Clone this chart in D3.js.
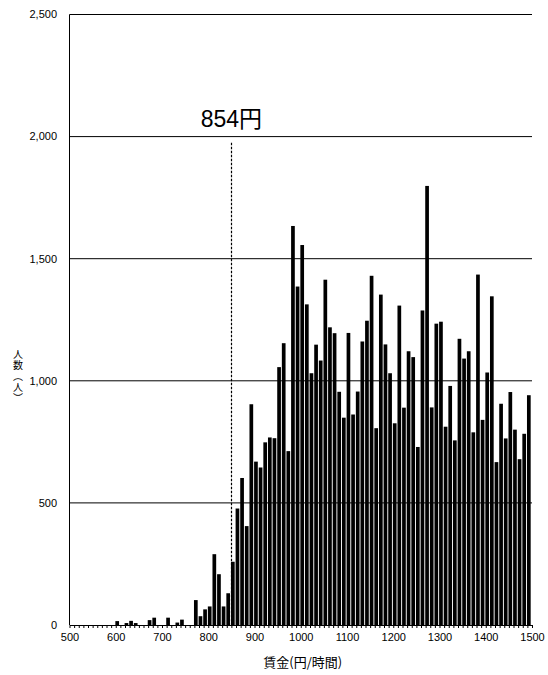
<!DOCTYPE html>
<html>
<head>
<meta charset="utf-8">
<script src="https://cdn.jsdelivr.net/npm/d3@7"></script>
<style>
  html, body { margin: 0; padding: 0; background: #fff; }
  svg { display: block; }
</style>
</head>
<body>
<svg id="chart" width="548" height="675"></svg>
<script>
// ---- data ----
const wages = [
  500,510,520,530,540,550,560,570,580,590,
  600,610,620,630,640,650,660,670,680,690,
  700,710,720,730,740,750,760,770,780,790,
  800,810,820,830,840,850,860,870,880,890,
  900,910,920,930,940,950,960,970,980,990,
  1000,1010,1020,1030,1040,1050,1060,1070,1080,1090,
  1100,1110,1120,1130,1140,1150,1160,1170,1180,1190,
  1200,1210,1220,1230,1240,1250,1260,1270,1280,1290,
  1300,1310,1320,1330,1340,1350,1360,1370,1380,1390,
  1400,1410,1420,1430,1440,1450,1460,1470,1480,1490
];
const counts = [
  0,0,0,0,0,0,0,0,0,0,
  16,0,8,17,8,0,0,20,30,0,
  0,30,0,10,22,0,0,102,36,64,
  76,290,208,76,130,259,477,602,405,904,
  669,645,748,768,765,1056,1154,712,1634,1386,
  1556,1313,1031,1148,1083,1414,1219,1195,955,849,
  1196,862,956,1161,1246,1430,806,1353,1149,1031,
  826,1308,890,1121,1097,729,1288,1798,891,1234,
  1242,812,979,756,1172,1091,1121,789,1435,840,
  1034,1346,667,906,764,954,800,679,783,941
];
const binWidth = 10;
const xTickLabels = [500,600,700,800,900,1000,1100,1200,1300,1400,1500];
const yTickValues = [0,500,1000,1500,2000,2500];
const minWage = 854;
const minWageLabel = "854円";
const xTitle = "賃金(円/時間)";
const yTitle = "人数（人）";

// ---- layout ----
const svg = d3.select("#chart");
const x = d3.scaleLinear().domain([500, 1500]).range([69.5, 532]);
const y = d3.scaleLinear().domain([0, 2500]).range([625, 14.5]);
const latin = "'Liberation Sans', Arial, 'Noto Sans CJK JP', sans-serif";
const cjk = "'Noto Sans CJK JP', 'Liberation Sans', sans-serif";

// gridlines
svg.append("g")
  .selectAll("line")
  .data(yTickValues.filter(v => v > 0))
  .join("line")
  .attr("x1", x(500)).attr("x2", x(1500))
  .attr("y1", d => y(d)).attr("y2", d => y(d))
  .attr("stroke", "#000").attr("stroke-width", 1);

// y labels
svg.append("g")
  .selectAll("text")
  .data(yTickValues)
  .join("text")
  .attr("x", 57)
  .attr("y", d => y(d))
  .attr("dy", "0.35em")
  .attr("text-anchor", "end")
  .attr("font-family", latin)
  .attr("font-size", 11)
  .attr("fill", "#000")
  .text(d => d3.format(",")(d));

// bars
const step = x(510) - x(500);
svg.append("g")
  .selectAll("rect")
  .data(wages.map((w, i) => ({w, c: counts[i]})).filter(d => d.c > 0))
  .join("rect")
  .attr("x", d => x(d.w) - 0.4)
  .attr("width", step * 0.8)
  .attr("y", d => y(d.c))
  .attr("height", d => y(0) - y(d.c))
  .attr("fill", "#000");

// x axis with minor ticks
const xAxis = d3.axisBottom(x)
  .tickValues(d3.range(500, 1501, binWidth))
  .tickSize(3)
  .tickSizeOuter(0)
  .tickFormat(d => xTickLabels.includes(d) ? d : "");
const gx = svg.append("g").attr("transform", `translate(0,${y(0)})`).call(xAxis);
gx.select(".domain").attr("stroke", "#000");
gx.selectAll(".tick line").attr("stroke", "#000");
gx.selectAll(".tick text")
  .attr("font-family", latin).attr("font-size", 11).attr("fill", "#000")
  .attr("dy", "0.9em");

// y axis line
svg.append("line")
  .attr("x1", x(500)).attr("x2", x(500))
  .attr("y1", y(0)).attr("y2", y(2500))
  .attr("stroke", "#000");

// min wage annotation
const bin = Math.floor(minWage / binWidth) * binWidth;
const lx = Math.round(x(bin)) + 0.5;
svg.append("line")
  .attr("x1", lx).attr("x2", lx)
  .attr("y1", y(1975)).attr("y2", y(0))
  .attr("stroke", "#000")
  .attr("stroke-width", 1.2)
  .attr("stroke-dasharray", "2.5,1.5");
svg.append("text")
  .attr("x", x(bin))
  .attr("y", y(2040))
  .attr("text-anchor", "middle")
  .attr("font-family", latin)
  .attr("font-size", 23)
  .attr("fill", "#000")
  .text(minWageLabel);

// axis titles
svg.append("text")
  .attr("x", (x(500) + x(1500)) / 2 + 2)
  .attr("y", 667)
  .attr("text-anchor", "middle")
  .attr("font-family", cjk)
  .attr("font-size", 13)
  .attr("fill", "#000")
  .text(xTitle);

svg.append("text")
  .attr("x", 18)
  .attr("y", 349)
  .attr("text-anchor", "start")
  .attr("font-family", cjk)
  .attr("font-size", 10)
  .attr("letter-spacing", 1)
  .attr("fill", "#000")
  .style("writing-mode", "vertical-rl")
  .style("text-orientation", "upright")
  .text(yTitle);
</script>
</body>
</html>
